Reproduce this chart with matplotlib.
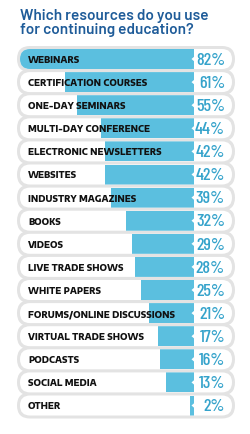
import matplotlib
matplotlib.use("Agg")
import matplotlib.pyplot as plt
from matplotlib.patches import FancyBboxPatch, Polygon
import logging
logging.getLogger("matplotlib.font_manager").setLevel(logging.ERROR)

categories = ["WEBINARS", "CERTIFICATION COURSES", "ONE-DAY SEMINARS",
              "MULTI-DAY CONFERENCE", "ELECTRONIC NEWSLETTERS", "WEBSITES",
              "INDUSTRY MAGAZINES", "BOOKS", "VIDEOS", "LIVE TRADE SHOWS",
              "WHITE PAPERS", "FORUMS/ONLINE DISCUSSIONS", "VIRTUAL TRADE SHOWS",
              "PODCASTS", "SOCIAL MEDIA", "OTHER"]
values = [82, 61, 55, 44, 42, 42, 39, 32, 29, 28, 25, 21, 17, 16, 13, 2]
title = "Which resources do you use\nfor continuing education?"

W, H = 250, 435
fig = plt.figure(figsize=(W / 100, H / 100), dpi=100)
ax = fig.add_axes([0, 0, 1, 1])
ax.set_xlim(0, W)
ax.set_ylim(H, 0)
ax.axis("off")

BLUE = "#5bbfdf"
TXT_BLUE = "#35a3cb"
GRAY = "#e3e3e3"
TITLE = "#1f5c99"

y0, step, rh = 60, 23.1, 20
x_left, x_right = 20, 232
bar_end = 194
scale = (bar_end - x_left) / 82.0

ys = [y0 + i * step for i in range(len(categories))]

for y in ys:
    ax.add_patch(FancyBboxPatch((x_left - 3, y - rh / 2 - 3), x_right - x_left + 6, rh + 6,
                                boxstyle="round,pad=0,rounding_size=13",
                                fc=GRAY, ec="none", zorder=1))
for y, v in zip(ys, values):
    pill = FancyBboxPatch((x_left, y - rh / 2), x_right - x_left, rh,
                          boxstyle="round,pad=0,rounding_size=10",
                          fc="white", ec="none", zorder=2)
    ax.add_patch(pill)
    bars = ax.barh([y], [v * scale], left=[bar_end - v * scale], height=rh,
                   color=BLUE, zorder=3)
    for b in bars:
        b.set_clip_path(pill)
    ax.add_patch(Polygon([(bar_end + 0.5, y - 2.6), (bar_end + 0.5, y + 2.6), (bar_end - 2.5, y)],
                         closed=True, fc="white", ec="none", zorder=4))

for y, c, v in zip(ys, categories, values):
    ax.text(28, y + 0.5, c, fontsize=5.9, fontweight=800, color="#111111",
            family=["Encode Sans Expanded", "DejaVu Sans"], ha="left", va="center", zorder=5)
    ax.text(225, y + 0.3, f"{v}%", fontsize=13, fontweight="medium", color=TXT_BLUE,
            family=["Barlow Condensed", "Roboto Condensed", "DejaVu Sans"],
            ha="right", va="center", zorder=5)

ax.text(20, 23, title, fontsize=11, fontweight="semibold", color=TITLE,
        family=["Barlow", "Open Sans", "DejaVu Sans"], ha="left", va="center", linespacing=1.0)

fig.savefig("out.png", dpi=100)
